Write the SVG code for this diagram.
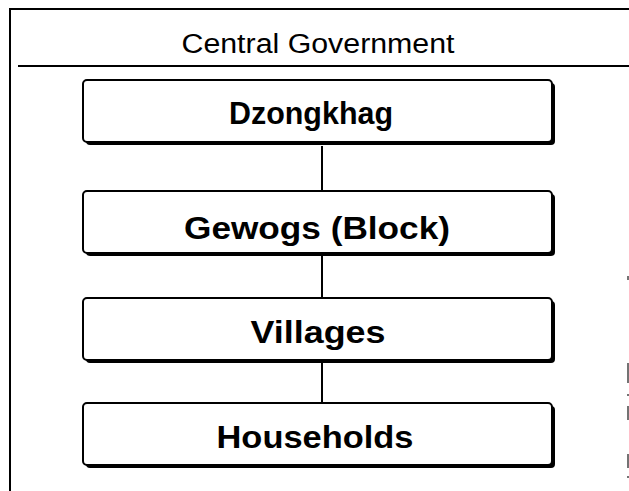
<svg xmlns="http://www.w3.org/2000/svg" width="629" height="491" viewBox="0 0 629 491">
<style>
.frame{stroke:#000;stroke-width:2;fill:none}
.box{fill:#fff;stroke:#000;stroke-width:2}
.shadow{fill:#000}
.lbl{font-family:"Liberation Sans",Arial,sans-serif;font-weight:bold;font-size:31px;fill:#000;text-anchor:middle}
.hdr{font-family:"Liberation Sans",Arial,sans-serif;font-size:27px;fill:#000;text-anchor:middle}
.conn{stroke:#000;stroke-width:2;fill:none}
.mark{stroke:#444;stroke-width:1.5}
</style>
<rect width="629" height="491" fill="#fff"/>
<g id="frame">
<line class="frame" x1="10" y1="9" x2="10" y2="491"/>
<line class="frame" x1="9" y1="9" x2="629" y2="9"/>
<line class="frame" x1="18" y1="66" x2="629" y2="66" stroke-width="1.5"/>
<line class="mark" x1="628" y1="276" x2="628" y2="280"/>
<line class="mark" x1="628" y1="363" x2="628" y2="383"/>
<line class="mark" x1="628" y1="394" x2="628" y2="396"/>
<line class="mark" x1="628" y1="406" x2="628" y2="420"/>
<line class="mark" x1="628" y1="454" x2="628" y2="468"/>
<line class="mark" x1="628" y1="476" x2="628" y2="478"/>
</g>
<g id="central">
<text class="hdr" x="318" y="53" textLength="273" lengthAdjust="spacingAndGlyphs">Central Government</text>
</g>
<g id="connectors">
<line class="conn" x1="322" y1="146" x2="322" y2="191"/>
<line class="conn" x1="322" y1="256" x2="322" y2="298"/>
<line class="conn" x1="322" y1="363" x2="322" y2="403"/>
</g>
<g id="dzongkhag">
<rect class="shadow" x="86" y="83" width="469" height="62" rx="4"/>
<rect class="box" x="83" y="80" width="469" height="62" rx="4"/>
<text class="lbl" x="311" y="124" textLength="164" lengthAdjust="spacingAndGlyphs">Dzongkhag</text>
</g>
<g id="gewogs">
<rect class="shadow" x="86" y="194" width="469" height="62" rx="4"/>
<rect class="box" x="83" y="191" width="469" height="62" rx="4"/>
<text class="lbl" x="317" y="239" textLength="266" lengthAdjust="spacingAndGlyphs">Gewogs (Block)</text>
</g>
<g id="villages">
<rect class="shadow" x="86" y="301" width="469" height="62" rx="4"/>
<rect class="box" x="83" y="298" width="469" height="62" rx="4"/>
<text class="lbl" x="318" y="343" textLength="135" lengthAdjust="spacingAndGlyphs">Villages</text>
</g>
<g id="households">
<rect class="shadow" x="86" y="406" width="469" height="62" rx="4"/>
<rect class="box" x="83" y="403" width="469" height="62" rx="4"/>
<text class="lbl" x="315" y="448" textLength="197" lengthAdjust="spacingAndGlyphs">Households</text>
</g>
</svg>
